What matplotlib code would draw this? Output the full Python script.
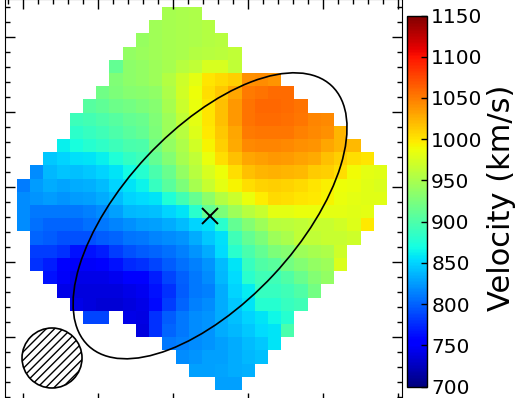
import numpy as np
import matplotlib
matplotlib.use("Agg")
import matplotlib.pyplot as plt
from matplotlib.patches import Ellipse, Circle
from matplotlib.ticker import MultipleLocator

# velocity map (km/s), one list per row from top to bottom;
# row_start is the column of the first filled cell in that row
row_start = [11, 10, 9, 8, 7, 7, 6, 5, 4, 4, 3, 2, 1, 0, 0,
             0, 0, 1, 1, 1, 2, 3, 4, 5, 9, 11, 12, 13, 15]
vel_rows = [
    [948, 950, 952],
    [945, 948, 950, 952, 955],
    [940, 945, 948, 950, 952, 955, 958],
    [938, 942, 945, 948, 950, 955, 958, 960, 962],
    [912, 935, 938, 943, 948, 957, 962, 975, 975, 962],
    [928, 935, 938, 943, 955, 970, 982, 1000, 1005, 1010, 1040, 1042, 1038],
    [918, 925, 932, 933, 937, 953, 972, 988, 1003, 1013, 1030, 1050, 1055, 1058, 1058],
    [905, 910, 917, 920, 925, 932, 948, 968, 985, 1000, 1018, 1036, 1055, 1060,
     1060, 1058, 1055],
    [890, 895, 900, 905, 912, 915, 928, 943, 962, 982, 1000, 1018, 1037, 1055, 1058,
     1058, 1056, 1052, 1045, 1043],
    [882, 887, 892, 900, 907, 912, 925, 943, 957, 978, 998, 1013, 1030, 1050, 1053,
     1053, 1052, 1048, 1043, 1040, 1022],
    [862, 872, 878, 883, 890, 897, 900, 920, 938, 953, 972, 992, 1010, 1027, 1043, 1045,
     1045, 1043, 1040, 1038, 1030, 1022, 1020],
    [845, 850, 855, 858, 863, 875, 885, 893, 912, 930, 948, 962, 985, 1003, 1018, 1030,
     1033, 1037, 1035, 1032, 1027, 1018, 1010, 1003, 1000],
    [818, 838, 843, 842, 845, 850, 857, 868, 878, 897, 915, 938, 957, 975, 988, 1003,
     1017, 1022, 1025, 1023, 1020, 1012, 1010, 1003, 990, 982, 980],
    [812, 825, 833, 830, 832, 835, 840, 850, 858, 865, 888, 907, 925, 948, 967, 982,
     993, 1003, 1008, 1010, 1008, 1005, 1000, 995, 988, 985, 980, 977],
    [818, 823, 825, 823, 825, 828, 832, 840, 850, 853, 858, 875, 895, 913, 935, 955,
     968, 985, 997, 1005, 1003, 1000, 998, 993, 985, 982, 980, 980],
    [818, 810, 810, 810, 810, 813, 818, 828, 838, 840, 842, 850, 857, 880, 912, 925,
     943, 957, 967, 982, 982, 985, 985, 982, 982, 980, 982],
    [818, 806, 801, 801, 801, 806, 810, 815, 820, 825, 828, 832, 840, 850, 856, 880,
     912, 930, 943, 957, 960, 963, 967, 967, 972, 979, 998],
    [801, 797, 792, 792, 792, 797, 801, 808, 810, 815, 818, 823, 832, 845, 856, 893,
     912, 925, 943, 950, 962, 962, 967, 967, 970],
    [783, 783, 778, 765, 765, 770, 783, 792, 797, 801, 806, 813, 823, 832, 853, 880,
     897, 912, 925, 932, 943, 948, 953, 970],
    [778, 770, 758, 748, 748, 755, 765, 775, 778, 787, 797, 806, 813, 823, 840, 857,
     888, 902, 907, 920, 930, 938, 943, 976],
    [765, 748, 742, 742, 742, 745, 755, 758, 770, 787, 800, 810, 818, 838, 853, 880,
     893, 892, 902, 915, 930, 938],
    [742, 738, 738, 738, 738, 742, 745, 765, 778, 797, 810, 813, 832, 850, 860, 888,
     888, 892, 902, 920],
    [742, 738, 735, 735, 738, 742, 760, 783, 801, 813, 818, 832, 845, 857, 878,
     878, 888, 892],
    [787, 787, np.nan, 742, 740, 778, 797, 810, 818, 823, 832, 842, 850, 857, 866, 878],
    [738, 778, 801, 810, 818, 823, 832, 838, 845, 853, 857, 897],
    [810, 813, 818, 823, 828, 832, 840, 845, 857],
    [818, 823, 828, 828, 832, 838, 842],
    [828, 828, 830, 832, 835],
    [828, 828],
]

cbar_ticks = list(range(700, 1151, 50))
vmin, vmax = 700, 1150

# geometry (arcsec)
ncols = 28
pix = 0.176
map_left = -0.084
map_top = 4.404
centre = (2.49, 1.62)
beam_xy = (0.383, -0.276)

grid = np.full((len(vel_rows), ncols), np.nan)
for r, (c0, vals) in enumerate(zip(row_start, vel_rows)):
    grid[r, c0:c0 + len(vals)] = vals
grid = np.ma.masked_invalid(grid)

fig = plt.figure(figsize=(5.2, 3.98), dpi=100)
ax = fig.add_axes([5 / 520, -5 / 398, 397 / 520, 404 / 398])

extent = (map_left, map_left + ncols * pix, map_top - len(vel_rows) * pix, map_top)
im = ax.imshow(grid, cmap="jet", vmin=vmin, vmax=vmax, origin="upper",
               extent=extent, interpolation="nearest", aspect="auto")

ax.add_patch(Ellipse(centre, width=4.747, height=2.312, angle=47,
                     fill=False, edgecolor="black", lw=1.2))
ax.plot(*centre, marker="x", color="black", markersize=11, mew=1.4)
ax.add_patch(Circle(beam_xy, 0.4, facecolor="none", edgecolor="black",
                    hatch="////", lw=1.2))

ax.set_xlim(-0.244, 5.0493)
ax.set_ylim(-0.876, 4.5107)
ax.xaxis.set_major_locator(MultipleLocator(1))
ax.xaxis.set_minor_locator(MultipleLocator(0.2))
ax.yaxis.set_major_locator(MultipleLocator(1))
ax.yaxis.set_minor_locator(MultipleLocator(0.2))
ax.tick_params(which="both", direction="in", top=True, right=True,
               labelbottom=False, labelleft=False)
ax.tick_params(which="major", length=7, width=1)
ax.tick_params(which="minor", length=3.5, width=1)

cax = fig.add_axes([407 / 520, 11.5 / 398, 20 / 520, 371 / 398])
cb = fig.colorbar(im, cax=cax, ticks=cbar_ticks)
cb.ax.tick_params(direction="in", length=4.5, width=1, labelsize=14.5, pad=3)
cb.outline.set_linewidth(1)
fig.text(501 / 520, 1 - 197.5 / 398, "Velocity (km/s)", rotation=90,
         ha="center", va="center", fontsize=22)

fig.savefig("out.png", dpi=100)
